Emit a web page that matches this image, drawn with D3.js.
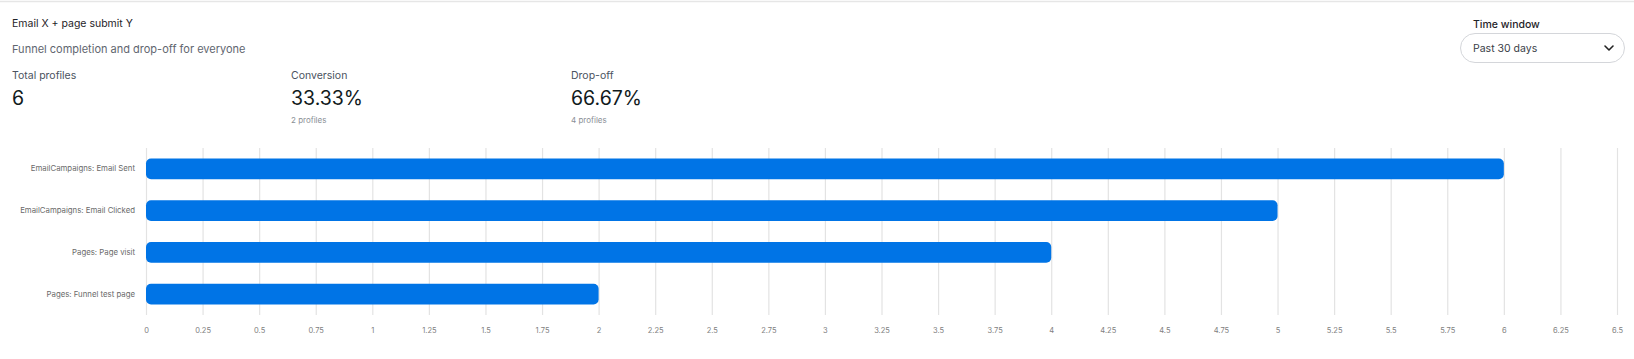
<!DOCTYPE html>
<html>
<head>
<meta charset="utf-8">
<script src="https://cdn.jsdelivr.net/npm/d3@7"></script>
<style>
  html, body { margin: 0; padding: 0; background: #fff; }
  svg { display: block; font-family: Inter, "Noto Sans", sans-serif; }
</style>
</head>
<body>
<svg id="chart" width="1634" height="359"></svg>
<script>
const steps = ["EmailCampaigns: Email Sent", "EmailCampaigns: Email Clicked", "Pages: Page visit", "Pages: Funnel test page"];
const profiles = [6, 5, 4, 2];
const xTicks = [0, 0.25, 0.5, 0.75, 1, 1.25, 1.5, 1.75, 2, 2.25, 2.5, 2.75, 3, 3.25, 3.5, 3.75, 4, 4.25, 4.5, 4.75, 5, 5.25, 5.5, 5.75, 6, 6.25, 6.5];
const titleText = "Email X + page submit Y";
const subtitleText = "Funnel completion and drop-off for everyone";
const statLabels = ["Total profiles", "Conversion", "Drop-off"];
const statValues = ["6", "33.33%", "66.67%"];
const statNotes = ["", "2 profiles", "4 profiles"];
const timeWindow = "Past 30 days";

const svg = d3.select("#chart");
const W = 1634;

// top border
svg.append("line").attr("x1", 0).attr("x2", W).attr("y1", 1.5).attr("y2", 1.5)
  .attr("stroke", "#e6e6e6").attr("stroke-width", 1.5);

svg.append("text").attr("x", 12).attr("y", 27).text(titleText)
  .attr("font-size", 10.5).attr("fill", "#1f2328").attr("font-weight", 400);
svg.append("text").attr("x", 12).attr("y", 53).text(subtitleText)
  .attr("font-size", 11).attr("fill", "#5f6670");

const statX = [12, 291, 571];
statLabels.forEach((l, i) => {
  svg.append("text").attr("x", statX[i]).attr("y", 79).text(l)
    .attr("font-size", 10.5).attr("fill", "#4a5260").attr("font-weight", 400);
  svg.append("text").attr("x", statX[i]).attr("y", 105).text(statValues[i])
    .attr("font-size", 19.5).attr("fill", "#111a1c");
  if (statNotes[i]) svg.append("text").attr("x", statX[i]).attr("y", 123).text(statNotes[i])
    .attr("font-size", 8).attr("fill", "#8a8f96");
});

// time window
svg.append("text").attr("x", 1473).attr("y", 28).text("Time window")
  .attr("font-size", 10.5).attr("fill", "#1f2328").attr("font-weight", 500);
svg.append("rect").attr("x", 1460.5).attr("y", 33.5).attr("width", 164).attr("height", 29)
  .attr("rx", 14.5).attr("fill", "#fff").attr("stroke", "#d4d6da");
svg.append("text").attr("x", 1473).attr("y", 52).text(timeWindow)
  .attr("font-size", 10.5).attr("fill", "#3a4048");
svg.append("path").attr("d", "M1605,46 L1609,50 L1613,46").attr("fill", "none")
  .attr("stroke", "#222").attr("stroke-width", 1.6).attr("stroke-linecap", "round").attr("stroke-linejoin", "round");

// chart
const x = d3.scaleLinear().domain([0, 6.5]).range([146, 1617]);
const y = d3.scaleBand().domain(steps).range([148, 315]).paddingInner(0.5).paddingOuter(0.25);

const grid = svg.append("g");
grid.selectAll("line").data(xTicks).join("line")
  .attr("x1", d => x(d) + 0.5).attr("x2", d => x(d) + 0.5)
  .attr("y1", 148).attr("y2", 315)
  .attr("stroke", "#e3e3e3").attr("stroke-width", 1.2);

const xAxis = svg.append("g").attr("transform", "translate(0,315)")
  .call(d3.axisBottom(x).tickValues(xTicks).tickSize(0).tickPadding(13).tickFormat(d => String(d)));
xAxis.select(".domain").remove();
xAxis.selectAll("text").attr("font-size", 7.5).attr("fill", "#808080").attr("font-family", "Inter, sans-serif");

const yAxis = svg.append("g").attr("transform", "translate(146,0)")
  .call(d3.axisLeft(y).tickSize(0).tickPadding(11));
yAxis.select(".domain").remove();
yAxis.selectAll("text").attr("font-size", 7.8).attr("fill", "#6a6a6a").attr("font-family", "Inter, sans-serif");

svg.append("g").selectAll("rect").data(steps).join("rect")
  .attr("x", x(0))
  .attr("y", d => y(d))
  .attr("width", (d, i) => x(profiles[i]) - x(0))
  .attr("height", y.bandwidth())
  .attr("rx", 5).attr("ry", 5)
  .attr("fill", "#0074e6");
</script>
</body>
</html>
